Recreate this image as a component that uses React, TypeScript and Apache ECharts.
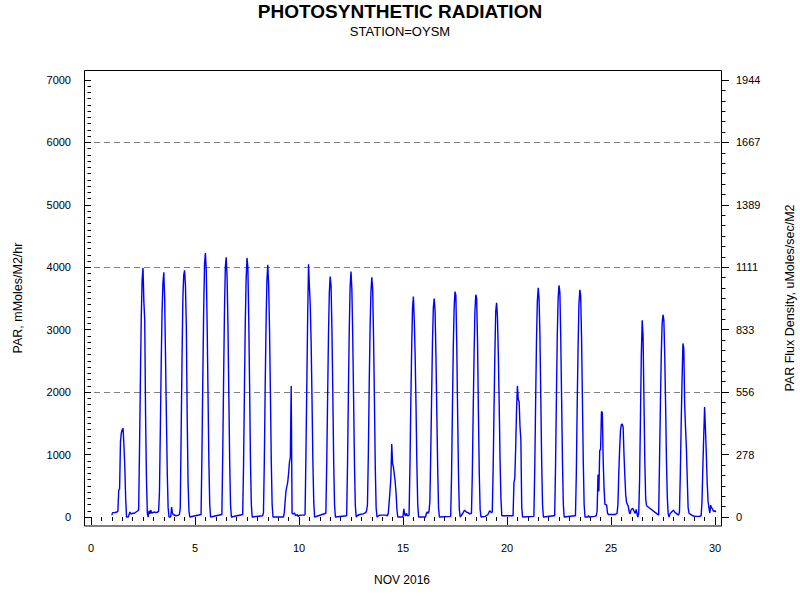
import React, { useEffect, useRef } from "react";
import * as echarts from "echarts";

// Hourly PAR readings, mMoles/M2/hr, as [hour of day, value], one list per day of NOV 2016
const nov01 = [[0,30],[1,70],[3,70],[6,80],[7,90],[8,430],[9,450],[10,1200],[11,1350],[12,1400],[13,1420],[14,1150],[15,800],[16,300],[17,0],[18,0],[19,0],[21,80],[22,50],[23,50]];
const nov02 = [[0,60],[2,60],[4,80],[6,100],[7,120],[8,1100],[9,2200],[10,3200],[11,3800],[12,3990],[13,3450],[14,3150],[15,1600],[16,600],[17,60],[18,0],[19,100],[20,50],[21,110],[22,60],[23,70]];
const nov03 = [[1,80],[3,70],[5,80],[6,90],[7,400],[8,1400],[9,2450],[10,3300],[11,3750],[12,3920],[13,3500],[14,2550],[15,1600],[16,700],[17,150],[18,0],[19,0],[20,0],[21,160],[22,60],[23,40]];
const nov04 = [[2,20],[5,30],[6,40],[7,150],[8,1300],[9,2500],[10,3500],[11,3880],[12,3950],[13,3700],[14,3050],[15,1600],[16,550],[17,100],[18,0]];
const nov05 = [[7,40],[8,1000],[9,2200],[10,3300],[11,4050],[12,4230],[13,3950],[14,3100],[15,2000],[16,900],[17,200],[18,0]];
const nov06 = [[7,40],[8,1000],[9,2200],[10,3300],[11,4000],[12,4160],[13,3850],[14,3100],[15,2000],[16,900],[17,200],[18,0]];
const nov07 = [[7,40],[8,800],[9,2000],[10,3100],[11,3800],[12,4150],[13,4000],[14,3200],[15,2100],[16,900],[17,200],[18,0]];
const nov08 = [[6,20],[7,70],[8,900],[9,2100],[10,3100],[11,3800],[12,4040],[13,3700],[14,3000],[15,2000],[16,900],[17,200],[18,0]];
const nov09 = [[6,0],[7,60],[8,250],[9,420],[10,490],[11,560],[12,700],[13,880],[14,950],[15,2100],[16,60],[17,50],[19,60],[20,20],[22,40],[23,10]];
const nov10 = [[1,30],[3,30],[5,30],[6,30],[7,40],[8,1000],[9,2100],[10,3200],[11,4050],[12,3700],[13,3400],[14,2800],[15,1900],[16,900],[17,250],[18,0]];
const nov11 = [[7,60],[8,850],[9,1900],[10,2900],[11,3600],[12,3850],[13,3700],[14,3000],[15,2000],[16,900],[17,200],[18,0]];
const nov12 = [[7,20],[8,850],[9,2000],[10,3000],[11,3700],[12,3930],[13,3650],[14,2900],[15,1900],[16,850],[17,180],[18,0],[19,20],[22,40]];
const nov13 = [[2,50],[5,70],[6,100],[7,200],[8,1000],[9,2100],[10,3000],[11,3600],[12,3840],[13,3650],[14,2900],[15,1900],[16,800],[17,150],[18,0],[21,30]];
const nov14 = [[4,30],[6,20],[7,60],[8,230],[9,420],[10,620],[11,1170],[12,850],[13,800],[14,680],[15,560],[16,380],[17,120],[18,0],[23,0]];
const nov15 = [[0,10],[1,130],[2,40],[3,20],[4,60],[5,20],[6,20],[7,30],[8,800],[9,1800],[10,2700],[11,3350],[12,3530],[13,3150],[14,2600],[15,1800],[16,850],[17,200],[18,0]];
const nov16 = [[2,0],[3,60],[4,80],[5,60],[6,90],[7,250],[8,1000],[9,1900],[10,2800],[11,3350],[12,3500],[13,3300],[14,2600],[15,1700],[16,800],[17,150],[18,0]];
const nov17 = [[7,10],[8,650],[9,1700],[10,2700],[11,3350],[12,3610],[13,3550],[14,2800],[15,1700],[16,700],[17,120],[18,0],[21,60],[23,110]];
const nov18 = [[1,80],[3,70],[5,50],[7,60],[8,700],[9,1700],[10,2600],[11,3300],[12,3560],[13,3500],[14,2800],[15,1700],[16,700],[17,120],[18,0],[23,10]];
const nov19 = [[2,40],[4,100],[6,70],[7,80],[8,750],[9,1700],[10,2600],[11,3300],[12,3430],[13,3200],[14,2600],[15,1800],[16,900],[17,300],[18,20]];
const nov20 = [[7,20],[8,550],[9,620],[10,1100],[11,1700],[12,2100],[13,1880],[14,1850],[15,1450],[16,1240],[17,150],[18,0]];
const nov21 = [[7,10],[8,750],[9,1800],[10,2800],[11,3450],[12,3670],[13,3500],[14,2900],[15,1900],[16,900],[17,200],[18,0]];
const nov22 = [[6,20],[7,20],[8,800],[9,1900],[10,2900],[11,3500],[12,3710],[13,3600],[14,2900],[15,1900],[16,900],[17,200],[18,0]];
const nov23 = [[6,20],[7,20],[8,700],[9,1800],[10,2700],[11,3400],[12,3640],[13,3550],[14,2900],[15,1900],[16,900],[17,200],[18,0],[21,0],[22,20],[23,0]];
const nov24 = [[5,10],[7,20],[8,100],[9,680],[10,410],[11,1070],[12,1080],[13,1690],[14,1670],[15,900],[16,450],[17,200],[18,200],[19,190],[20,60],[21,40],[22,40],[23,40]];
const nov25 = [[2,40],[5,40],[6,50],[7,60],[8,200],[9,700],[10,1100],[11,1400],[12,1480],[13,1490],[14,1440],[15,1000],[16,650],[17,350],[18,230],[19,200],[20,170],[21,80],[22,50],[23,110]];
const nov26 = [[1,140],[3,80],[4,60],[5,120],[7,0],[8,60],[9,600],[10,1600],[11,2600],[12,3150],[13,2900],[14,1900],[15,900],[16,300],[17,180]];
const nov27 = [[7,30],[8,900],[9,1800],[10,2600],[11,3100],[12,3240],[13,3150],[14,2600],[15,1800],[16,900],[17,300],[18,50],[19,0],[20,50],[22,80]];
const nov28 = [[0,110],[2,70],[4,50],[6,30],[7,80],[8,700],[9,1500],[10,2200],[11,2780],[12,2700],[13,1800],[14,1430],[15,1100],[16,600],[17,150],[18,60],[19,50],[23,15]];
const nov29 = [[2,10],[6,10],[8,20],[9,250],[10,800],[11,1300],[12,1760],[13,1400],[14,1000],[15,540],[16,250],[17,150],[18,60],[19,190],[20,150],[21,130],[22,100],[23,90]];
const nov30 = [[0,100],[1,80]];

const DAYS = [nov01, nov02, nov03, nov04, nov05, nov06, nov07, nov08, nov09, nov10,
  nov11, nov12, nov13, nov14, nov15, nov16, nov17, nov18, nov19, nov20,
  nov21, nov22, nov23, nov24, nov25, nov26, nov27, nov28, nov29, nov30];

const TITLE = "PHOTOSYNTHETIC RADIATION";
const SUBTITLE = "STATION=OYSM";
const X_NAME = "NOV 2016";
const Y_NAME_LEFT = "PAR, mMoles/M2/hr";
const Y_NAME_RIGHT = "PAR Flux Density, uMoles/sec/M2";
const GRID_LINES = [2000, 4000, 6000];

const FONT = '"Liberation Sans", Arial, Helvetica, sans-serif';

export default function App() {
  const ref = useRef<HTMLDivElement>(null);
  useEffect(() => {
    if (!ref.current) return;
    const chart = echarts.init(ref.current, undefined, { renderer: "svg" });
    const data: [number, number][] = [];
    DAYS.forEach((pts, i) => {
      const day = i + 1;
      pts.forEach(([h, v]) => data.push([day + h / 24, v]));
    });

    const gTop = 80, gBottom = 83; // inner plotting grid (0..7000)
    const y0 = 600 - gBottom, y7 = gTop;
    const yOf = (v: number) => y0 - (y0 - y7) * v / 7000;
    const gMin = Math.min(...GRID_LINES), gMax = Math.max(...GRID_LINES);

    const tickStyle = { color: "#000", width: 1 };
    const labelStyle = { color: "#000", fontSize: 11, fontFamily: FONT };

    chart.setOption({
      animation: false,
      textStyle: { fontFamily: FONT },
      grid: [
        { left: 91, right: 85, top: gTop, bottom: gBottom },
        { left: 84, right: 78, top: yOf(gMax), bottom: 600 - yOf(gMin) },
      ],
      xAxis: [
        {
          type: "value", gridIndex: 0, min: 0, max: 30, interval: 5, offset: 9,
          axisLine: { show: false },
          axisTick: { show: true, length: 8, lineStyle: tickStyle },
          minorTick: { show: true, splitNumber: 10, length: 4, lineStyle: tickStyle },
          axisLabel: { ...labelStyle, margin: 16, formatter: (v: number) => String(v) },
          splitLine: { show: false },
        },
        { type: "value", gridIndex: 1, min: 0, max: 1, show: false },
      ],
      yAxis: [
        {
          type: "value", gridIndex: 0, position: "left", min: 0, max: 7000, interval: 1000, offset: 7,
          axisLine: { show: false },
          axisTick: { show: true, length: 7, lineStyle: tickStyle },
          minorTick: { show: true, splitNumber: 10, length: 3.5, lineStyle: tickStyle },
          axisLabel: { ...labelStyle, margin: 13, formatter: (v: number) => String(v) },
          splitLine: { show: false },
        },
        {
          type: "value", gridIndex: 0, position: "right", min: 0, max: 7000, interval: 1000, offset: 7,
          axisLine: { show: false },
          axisTick: { show: true, length: 7, lineStyle: tickStyle },
          minorTick: { show: true, splitNumber: 6, length: 3.5, lineStyle: tickStyle },
          axisLabel: { ...labelStyle, margin: 14, formatter: (v: number) => String(Math.round(v / 3.6)) },
          splitLine: { show: false },
        },
        {
          type: "value", gridIndex: 1, min: gMin, max: gMax, interval: 2000,
          axisLine: { show: false }, axisTick: { show: false }, axisLabel: { show: false },
          splitLine: { show: true, lineStyle: { color: "#808080", width: 1, type: [6, 4] } },
        },
      ],
      series: [
        {
          type: "line", xAxisIndex: 0, yAxisIndex: 0, data,
          showSymbol: false, symbol: "none",
          lineStyle: { color: "#0000ff", width: 1.4 },
          clip: false, silent: true,
        },
      ],
      graphic: [
        { type: "rect", shape: { x: 84.5, y: 70.5, width: 637, height: 455.5 }, style: { fill: "none", stroke: "#000", lineWidth: 1 }, z: 100 },
        { type: "text", x: 400, y: 11, style: { text: TITLE, font: `bold 19px ${FONT}`, fill: "#000", align: "center", verticalAlign: "middle" } },
        { type: "text", x: 400, y: 31, style: { text: SUBTITLE, font: `13px ${FONT}`, fill: "#000", align: "center", verticalAlign: "middle" } },
        { type: "text", x: 402, y: 580, style: { text: X_NAME, font: `12px ${FONT}`, fill: "#000", align: "center", verticalAlign: "middle" } },
        { type: "text", x: 18, y: 298, rotation: Math.PI / 2, style: { text: Y_NAME_LEFT, font: `12.5px ${FONT}`, fill: "#000", align: "center", verticalAlign: "middle" } },
        { type: "text", x: 790, y: 298, rotation: Math.PI / 2, style: { text: Y_NAME_RIGHT, font: `12.5px ${FONT}`, fill: "#000", align: "center", verticalAlign: "middle" } },
      ],
    });
    return () => chart.dispose();
  }, []);
  return <div ref={ref} style={{ position: "absolute", left: 0, top: 0, width: 800, height: 600 }} />;
}
